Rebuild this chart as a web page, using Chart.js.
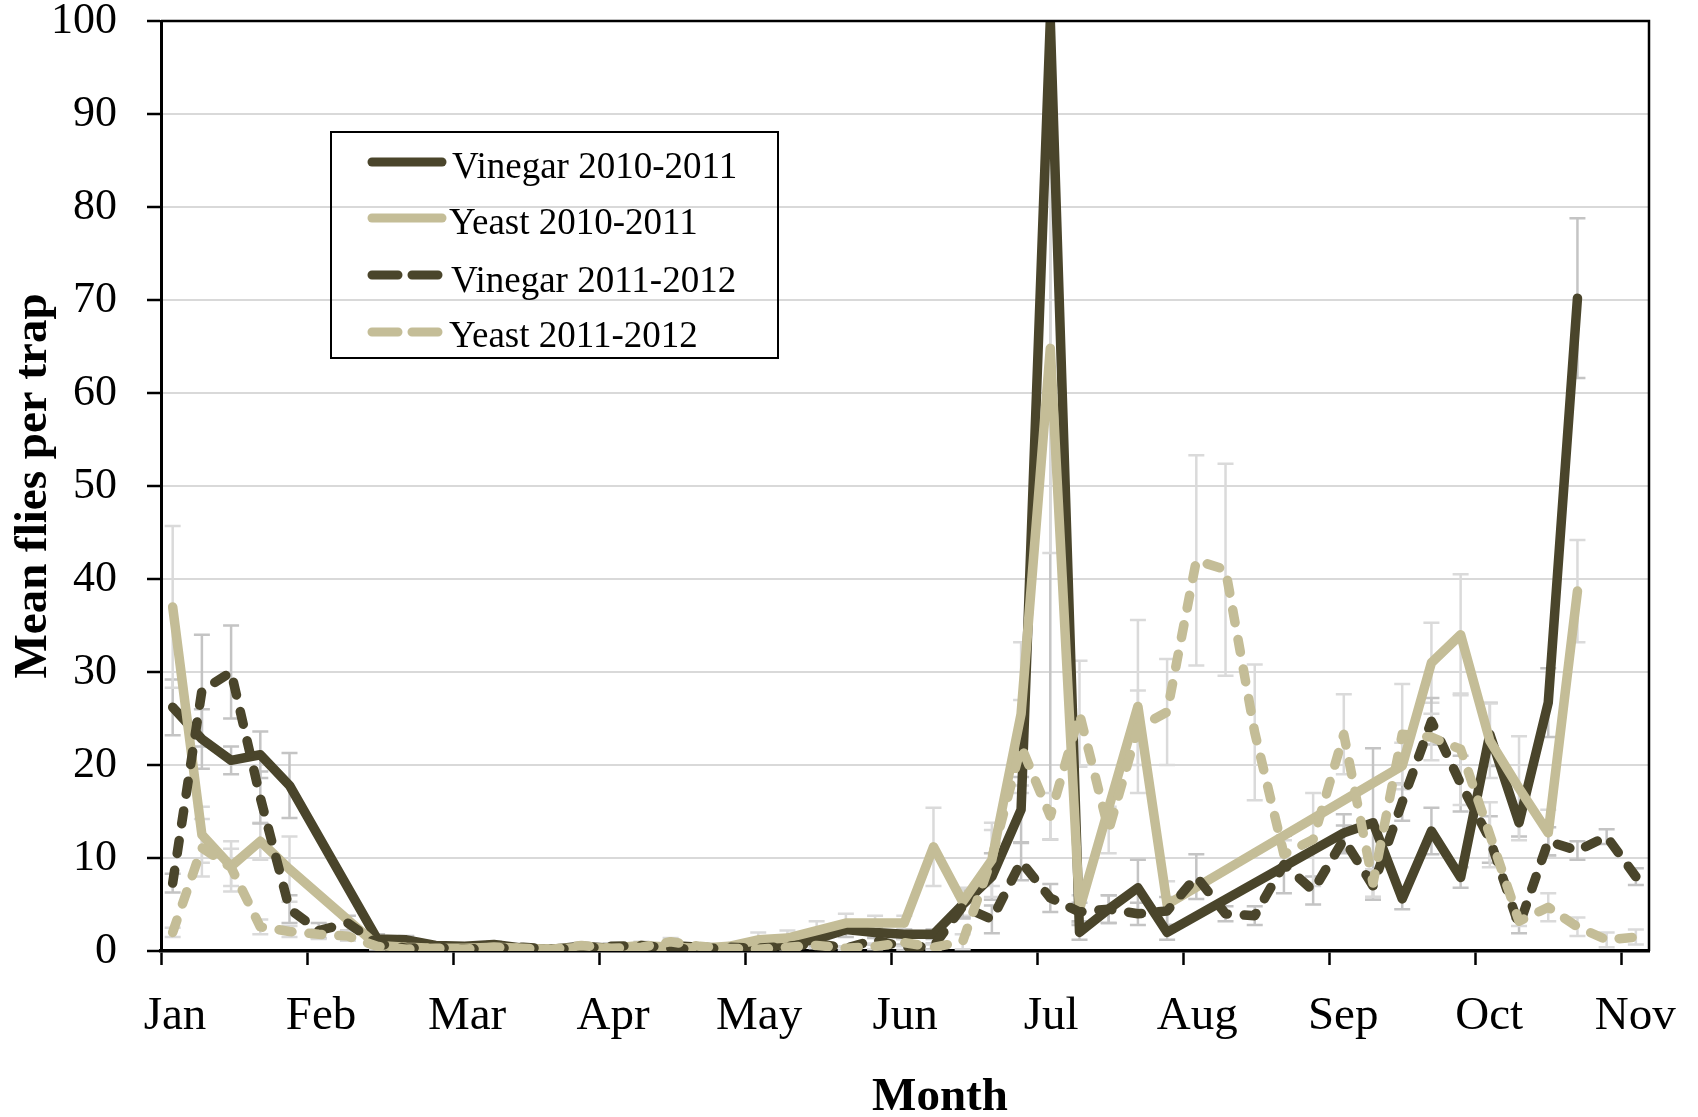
<!DOCTYPE html>
<html>
<head>
<meta charset="utf-8">
<script src="https://cdn.jsdelivr.net/npm/chart.js@4.4.0/dist/chart.umd.min.js"></script>
<style>
  html, body { margin: 0; padding: 0; background: #fff; }
  #wrap { position: relative; width: 1698px; height: 1117px; font-family: "Liberation Serif", "Times New Roman", serif; }
  #wrap canvas { position: absolute; left: 0; top: 0; }
  #legend { position: absolute; left: 330px; top: 131px; width: 445px; height: 224px; border: 2px solid #000; }
  .label { position: absolute; font-size: 37px; line-height: 1; white-space: nowrap; color: #000; }
  #xtitle { position: absolute; left: 940px; top: 1094px; transform: translate(-50%, -50%); font-size: 47px; font-weight: bold; line-height: 1; }
</style>
</head>
<body>
<div id="wrap">
  <canvas id="chart" width="1698" height="1117"></canvas>
  <div id="legend"></div>
  <div id="xtitle">Month</div>
</div>
<script>
// month labels on the x axis (one tick per month)
const months = ['Jan', 'Feb', 'Mar', 'Apr', 'May', 'Jun', 'Jul', 'Aug', 'Sep', 'Oct', 'Nov'];

// weekly sampling dates, in months from 1 Jan
const weekPos = [0.08, 0.28, 0.48, 0.68, 0.88, 1.08, 1.28, 1.48, 1.68, 1.88,
  2.08, 2.28, 2.48, 2.68, 2.88, 3.08, 3.29, 3.49, 3.69, 3.89,
  4.09, 4.29, 4.49, 4.69, 4.89, 5.09, 5.29, 5.49, 5.69, 5.89,
  6.09, 6.29, 6.49, 6.69, 6.89, 7.09, 7.29, 7.49, 7.69, 7.89,
  8.10, 8.30, 8.50, 8.70, 8.90, 9.10, 9.30, 9.50, 9.70, 9.90, 10.10];

// Vinegar 2010-2011
const vinegar1011 = [26.2, 22.8, 20.5, 21.1, 17.8, null, null, 1.3, 1.2, 0.6,
  0.5, 0.7, 0.3, 0.2, 0.5, 0.3, 0.2, 0.6, 0.4, 0.3,
  0.5, 0.6, 1.3, 2.3, 2.0, 1.8, 1.8, 5.0, 8.0, 15.2,
  100, 2.0, 4.5, 6.8, 2.0, null, null, null, null, null,
  12.7, 13.8, 5.6, 12.9, 7.9, 23.3, 13.8, 26.7, 70.2, null, null];
const vinegar1011Err = [3.0, 3.2, 1.5, 2.5, 3.5, null, null, 0.5, 0.4, 0.3,
  0.3, 0.3, 0.2, 0.2, 0.3, 0.2, 0.2, 0.3, 0.3, 0.2,
  0.3, 0.4, 0.6, 0.8, 0.6, 0.5, 0.5, 1.5, 2.5, 3.5,
  88, 0.8, 1.5, 3.0, 0.8, null, null, null, null, null,
  2.0, 8.0, 1.1, 2.5, 1.1, 3.4, 1.5, 3.7, 8.6, null, null];

// Yeast 2010-2011
const yeast1011 = [37.0, 12.5, 9.1, 11.8, 8.8, null, null, 0.6, 0.4, 0.3,
  0.3, 0.4, 0.3, 0.2, 0.4, 0.3, 0.6, 0.4, 0.3, 0.5,
  1.2, 1.4, 2.2, 3.0, 3.0, 3.0, 11.2, 5.3, 9.8, 25.5,
  64.8, 4.5, null, 26.3, 5.0, null, null, null, null, null,
  null, null, 19.9, 31.0, 34.0, 22.6, 17.5, 12.7, 38.7, null, null];
const yeast1011Err = [8.7, 3.0, 2.7, 2.0, 3.5, null, null, 0.4, 0.3, 0.2,
  0.2, 0.3, 0.2, 0.2, 0.3, 0.2, 0.4, 0.3, 0.2, 0.3,
  0.8, 0.8, 1.0, 1.0, 0.8, 0.8, 4.2, 1.5, 4.0, 7.7,
  22, 1.5, null, 9.3, 2.5, null, null, null, null, null,
  null, null, 2.5, 4.3, 6.5, 4.0, 5.6, 2.5, 5.5, null, null];

// Vinegar 2011-2012
const vinegar1112 = [7.3, 28.0, 30.0, 16.5, 4.5, 2.2, 3.0, 0.8, 0.3, 0.4,
  0.2, 0.3, 0.4, 0.2, 0.3, 0.5, 0.6, 0.3, 0.2, 0.4,
  0.3, 0.5, 0.8, 0.3, 1.2, 0.4, 0.5, 4.8, 3.4, 9.6,
  5.7, 4.2, 4.5, 4.0, 4.3, 8.0, 4.0, 3.8, 9.3, 6.5,
  12.0, 7.0, 16.0, 24.7, 18.0, 12.0, 2.7, 11.8, 10.8, 12.3, 8.0];
const vinegar1112Err = [1.0, 6.0, 5.0, 2.8, 1.5, 0.8, 0.8, 0.4, 0.2, 0.2,
  0.2, 0.2, 0.3, 0.2, 0.2, 0.3, 0.3, 0.2, 0.2, 0.2,
  0.2, 0.3, 0.4, 0.2, 0.5, 0.3, 0.3, 1.2, 1.5, 2.0,
  1.5, 1.0, 1.5, 1.2, 1.5, 2.4, 0.8, 1.0, 3.1, 1.5,
  1.5, 1.5, 2.0, 2.5, 3.0, 2.5, 0.8, 1.5, 1.0, 0.8, 0.9];

// Yeast 2011-2012
const yeast1112 = [2.0, 11.1, 9.0, 2.6, 2.1, 1.8, 1.6, 0.5, 0.2, 0.3,
  0.2, 0.4, 0.3, 0.2, 0.6, 0.3, 0.4, 1.0, 0.5, 0.3,
  0.2, 0.4, 0.6, 0.3, 0.5, 0.9, 0.4, 1.0, 10.0, 22.0,
  14.5, 25.5, 13.0, 24.0, 25.7, 42.0, 41.0, 23.5, 10.4, 12.0,
  23.3, 7.3, 23.3, 23.0, 21.7, 12.5, 3.2, 4.7, 2.6, 1.2, 1.5];
const yeast1112Err = [0.5, 3.1, 2.0, 0.8, 0.6, 0.5, 0.5, 0.3, 0.2, 0.2,
  0.2, 0.2, 0.2, 0.2, 0.3, 0.2, 0.2, 0.4, 0.3, 0.2,
  0.2, 0.2, 0.3, 0.2, 0.3, 0.4, 0.3, 0.8, 3.0, 5.0,
  2.5, 5.7, 2.5, 4.0, 5.7, 11.3, 11.4, 7.3, 1.5, 5.0,
  4.3, 1.5, 5.4, 2.5, 6.0, 3.5, 0.5, 1.5, 1.0, 0.8, 0.8];

const yTicks = [0, 10, 20, 30, 40, 50, 60, 70, 80, 90, 100];

const DARK = '#4a452b';
const LIGHT = '#c4bd97';
const FONT = '"Liberation Serif", "Times New Roman", serif';

const toPoints = vals => weekPos.map((m, i) => ({ x: m, y: vals[i] }));

const series = [
  { label: 'Vinegar 2010-2011', vals: vinegar1011, err: vinegar1011Err, color: DARK, dash: [], errColor: '#c4c4c4', order: 4 },
  { label: 'Yeast 2010-2011', vals: yeast1011, err: yeast1011Err, color: LIGHT, dash: [], errColor: '#dadada', order: 3 },
  { label: 'Vinegar 2011-2012', vals: vinegar1112, err: vinegar1112Err, color: DARK, dash: [13, 17], errColor: '#c4c4c4', order: 2 },
  { label: 'Yeast 2011-2012', vals: yeast1112, err: yeast1112Err, color: LIGHT, dash: [13, 17], errColor: '#dadada', order: 1 }
];

// error bars drawn behind the lines
const errorBars = {
  id: 'errorBars',
  beforeDatasetsDraw(chart) {
    const { ctx, chartArea: a, scales: { x, y } } = chart;
    ctx.save();
    ctx.beginPath();
    ctx.rect(a.left, a.top, a.right - a.left, a.bottom - a.top);
    ctx.clip();
    ctx.lineWidth = 2.5;
    chart.data.datasets.forEach(ds => {
      ctx.strokeStyle = ds.errColor;
      ds.data.forEach((p, i) => {
        const e = ds.errors[i];
        if (p.y == null || !e) return;
        const px = x.getPixelForValue(p.x);
        const top = y.getPixelForValue(p.y + e);
        const bot = y.getPixelForValue(p.y - e);
        ctx.beginPath();
        ctx.moveTo(px, top); ctx.lineTo(px, bot);
        ctx.moveTo(px - 8, top); ctx.lineTo(px + 8, top);
        ctx.moveTo(px - 8, bot); ctx.lineTo(px + 8, bot);
        ctx.stroke();
      });
    });
    ctx.restore();
  }
};

// top and right border of the plot box
const frame = {
  id: 'frame',
  afterDraw(chart) {
    const { ctx, chartArea: a } = chart;
    ctx.save();
    ctx.strokeStyle = '#000';
    ctx.lineWidth = 2.5;
    ctx.beginPath();
    ctx.moveTo(a.left, a.top);
    ctx.lineTo(a.right, a.top);
    ctx.lineTo(a.right, a.bottom);
    ctx.stroke();
    ctx.restore();
  }
};

new Chart(document.getElementById('chart'), {
  type: 'line',
  data: {
    datasets: series.map(s => ({
      label: s.label,
      data: toPoints(s.vals),
      errors: s.err,
      errColor: s.errColor,
      borderColor: s.color,
      backgroundColor: s.color,
      borderWidth: 9.5,
      borderDash: s.dash,
      borderCapStyle: 'round',
      borderJoinStyle: 'round',
      pointRadius: 0,
      tension: 0,
      spanGaps: true,
      order: s.order
    }))
  },
  options: {
    responsive: false,
    animation: false,
    events: [],
    layout: { padding: { left: 0, top: 21, right: 49, bottom: 0 } },
    plugins: { legend: { display: false }, tooltip: { enabled: false } },
    scales: {
      x: {
        type: 'linear',
        min: 0,
        max: 10.19,
        afterFit: axis => {
          axis.height = 166;
          axis.paddingLeft = 0;
          axis.paddingRight = 0;
        },
        afterBuildTicks: axis => { axis.ticks = months.map((m, i) => ({ value: i })); },
        ticks: {
          callback: v => months[v],
          autoSkip: false,
          maxRotation: 0,
          labelOffset: 14,
          padding: 23,
          color: '#000',
          font: { family: FONT, size: 47 }
        },
        grid: { drawOnChartArea: false, drawTicks: true, tickLength: 14, tickColor: '#000', tickWidth: 2.5 },
        border: { color: '#000', width: 3.5 }
      },
      y: {
        min: 0,
        max: 100,
        afterFit: axis => {
          axis.width = 161;
          axis.paddingTop = 0;
          axis.paddingBottom = 0;
        },
        afterBuildTicks: axis => { axis.ticks = yTicks.map(v => ({ value: v })); },
        ticks: {
          padding: 30,
          color: '#000',
          font: { family: FONT, size: 44 }
        },
        grid: { color: '#d9d9d9', lineWidth: 2, tickLength: 14, tickColor: '#000', tickWidth: 2.5 },
        border: { color: '#000', width: 3 },
        title: {
          display: true,
          text: 'Mean flies per trap',
          color: '#000',
          font: { family: FONT, size: 47, weight: 'bold' },
          padding: { top: 6, bottom: 0 }
        }
      }
    }
  },
  plugins: [errorBars, frame]
});

// legend box, drawn over the plot like the original
const legendRows = [
  { line: 29, text: 33, textX: 120 },
  { line: 85, text: 89, textX: 117 },
  { line: 142, text: 147, textX: 119 },
  { line: 199, text: 202, textX: 117 }
];
const legend = document.getElementById('legend');
series.forEach((s, i) => {
  const r = legendRows[i];
  const svgNS = 'http://www.w3.org/2000/svg';
  const svg = document.createElementNS(svgNS, 'svg');
  svg.setAttribute('width', '100');
  svg.setAttribute('height', '20');
  svg.style.position = 'absolute';
  svg.style.left = '30px';
  svg.style.top = (r.line - 10) + 'px';
  const ln = document.createElementNS(svgNS, 'line');
  ln.setAttribute('x1', '10'); ln.setAttribute('y1', '10');
  ln.setAttribute('x2', '80'); ln.setAttribute('y2', '10');
  ln.setAttribute('stroke', s.color);
  ln.setAttribute('stroke-width', '9');
  ln.setAttribute('stroke-linecap', 'round');
  if (s.dash.length) ln.setAttribute('stroke-dasharray', '26 14');
  svg.appendChild(ln);
  legend.appendChild(svg);
  const lab = document.createElement('div');
  lab.className = 'label';
  lab.textContent = s.label;
  lab.style.left = r.textX + 'px';
  lab.style.top = (r.text - 19) + 'px';
  legend.appendChild(lab);
});
</script>
</body>
</html>
